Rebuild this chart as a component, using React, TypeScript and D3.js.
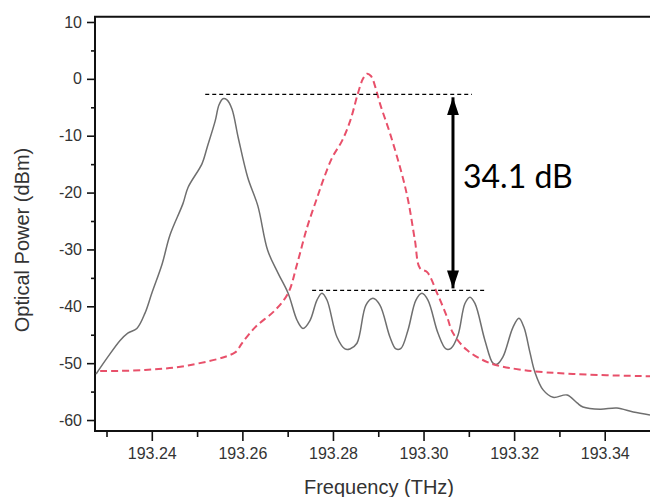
import React, { useEffect, useRef } from 'react'
import * as d3 from 'd3'

// Gray trace (solid): frequency THz, power dBm
const grayFreq = [
  193.2277, 193.2303, 193.2330, 193.2347, 193.2367, 193.2385, 193.2400, 193.2423,
  193.2440, 193.2469, 193.2480, 193.2511, 193.2522, 193.2540, 193.25483, 193.25572,
  193.25660, 193.25770, 193.2591, 193.2612, 193.2634, 193.2656, 193.2679, 193.2701,
  193.2721, 193.27338, 193.27492, 193.27647, 193.27757, 193.27868, 193.28088, 193.28265,
  193.28375, 193.28530, 193.28728, 193.28883, 193.29037, 193.29258, 193.29391, 193.29501,
  193.29656, 193.29832, 193.29965, 193.30097, 193.30318, 193.30495, 193.30605, 193.30760,
  193.30914, 193.31025, 193.31135, 193.31356, 193.31532, 193.31621, 193.31753, 193.31974,
  193.32106, 193.32217, 193.32349, 193.32460, 193.3264, 193.3286, 193.3317, 193.3339,
  193.3352, 193.3390, 193.3427, 193.3463, 193.3500
]
const grayPower = [
  -51.9, -48.9, -46.0, -44.7, -43.9, -41.2, -37.7, -32.5,
  -27.5, -21.9, -19.1, -14.9, -12.1, -7.4, -4.6, -3.5,
  -3.7, -5.3, -10.4, -17.4, -22.3, -30.2, -34.2, -37.7,
  -42.5, -43.9, -42.5, -38.9, -37.7, -38.9, -45.4, -47.5,
  -47.5, -46.5, -39.8, -38.6, -39.8, -45.4, -47.5, -47.4,
  -44.2, -38.9, -37.7, -38.9, -44.7, -47.5, -47.4, -45.1,
  -39.5, -38.4, -39.5, -46.0, -50.0, -50.2, -48.9, -43.7,
  -42.1, -43.7, -48.1, -51.6, -54.7, -56.0, -55.6, -57.0,
  -57.7, -58.1, -57.9, -58.6, -59.1
]

// Red trace (dashed)
const redFreq = [
  193.2286, 193.2385, 193.2480, 193.2584, 193.2599, 193.2628, 193.2672, 193.2701,
  193.2721, 193.2743, 193.2765, 193.2778, 193.2798, 193.2820, 193.2838, 193.2855,
  193.28662, 193.2875, 193.28839, 193.28949, 193.2904, 193.2926, 193.2952, 193.2966,
  193.2981, 193.2992, 193.3008, 193.3030, 193.3052, 193.3065, 193.3096, 193.3147,
  193.3220, 193.3330, 193.3500
]
const redPower = [
  -51.4, -51.2, -50.4, -48.1, -46.5, -43.7, -40.7, -37.7,
  -32.5, -26.1, -20.9, -17.9, -13.9, -10.9, -7.4, -2.6,
  0.0, 0.9, 0.5, -1.8, -4.4, -9.6, -16.7, -21.4,
  -28.4, -33.3, -34.0, -37.7, -41.9, -44.7, -47.7, -50.0,
  -51.2, -51.9, -52.3
]

const xMajor = [193.24, 193.26, 193.28, 193.30, 193.32, 193.34]
const xMinor = [193.23, 193.25, 193.27, 193.29, 193.31, 193.33]
const yMajor = [-60, -50, -40, -30, -20, -10, 0, 10]
const yMinor = [-55, -45, -35, -25, -15, -5, 5]

// annotation: levels and extents
const upperLevel = -2.72
const lowerLevel = -37.2
const upperSpan = [193.2518, 193.3107]
const lowerSpan = [193.2754, 193.3135]
const arrowFreq = 193.3065
const deltaLabel = '34.1 dB'

const W = 650
const H = 497
const font = '"Liberation Sans", Arial, sans-serif'

export default function App() {
  const ref = useRef<SVGSVGElement>(null)

  useEffect(() => {
    if (!ref.current) return
    const svg = d3.select(ref.current)
    svg.selectAll('*').remove()

    const left = 95, right = 650, top = 16.7, bottom = 431

    const x = d3.scaleLinear().domain([193.22746, 193.35]).range([left, right])
    const y = d3.scaleLinear().domain([-61.93, 10.93]).range([bottom, top])

    const defs = svg.append('defs')
    defs.append('clipPath').attr('id', 'plot')
      .append('rect').attr('x', left).attr('y', top).attr('width', right - left).attr('height', bottom - top)
    const arrowHead = defs.append('marker')
      .attr('id', 'head')
      .attr('viewBox', '0 0 18 12')
      .attr('refX', 18).attr('refY', 6)
      .attr('markerWidth', 18).attr('markerHeight', 12)
      .attr('markerUnits', 'userSpaceOnUse')
      .attr('orient', 'auto-start-reverse')
    arrowHead.append('path').attr('d', 'M0,0 L18,6 L0,12 Z').attr('fill', '#000')

    // axes
    const yAxis = svg.append('g').attr('transform', `translate(${left},0)`)
      .call(d3.axisLeft(y).tickValues(yMajor).tickSize(8).tickPadding(5).tickFormat(d => String(d)))
    const yAxisMinor = svg.append('g').attr('transform', `translate(${left},0)`)
      .call(d3.axisLeft(y).tickValues(yMinor).tickSize(4).tickFormat(() => ''))
    const xAxis = svg.append('g').attr('transform', `translate(0,${bottom})`)
      .call(d3.axisBottom(x).tickValues(xMajor).tickSize(10).tickPadding(7).tickFormat(d3.format('.2f')))
    const xAxisMinor = svg.append('g').attr('transform', `translate(0,${bottom})`)
      .call(d3.axisBottom(x).tickValues(xMinor).tickSize(6).tickFormat(() => ''))

    for (const g of [yAxis, yAxisMinor, xAxis, xAxisMinor]) {
      g.select('.domain').remove()
      g.selectAll('line').attr('stroke', '#111').attr('stroke-width', 1.6)
      g.selectAll('text').attr('font-family', font).attr('font-size', 16).attr('fill', '#333')
    }

    // frame lines
    svg.append('path')
      .attr('d', `M${left},${bottom} L${left},${top} L${right},${top}`)
      .attr('fill', 'none').attr('stroke', '#111').attr('stroke-width', 2)
    svg.append('line')
      .attr('x1', left - 1).attr('x2', right).attr('y1', bottom).attr('y2', bottom)
      .attr('stroke', '#111').attr('stroke-width', 2)

    // traces
    const plot = svg.append('g').attr('clip-path', 'url(#plot)')
    const line = d3.line<[number, number]>()
      .x(d => x(d[0])).y(d => y(d[1]))
      .curve(d3.curveCatmullRom.alpha(0.5))

    plot.append('path')
      .datum(grayFreq.map((f, i) => [f, grayPower[i]] as [number, number]))
      .attr('d', line)
      .attr('fill', 'none').attr('stroke', '#6f6f6f').attr('stroke-width', 1.5)

    plot.append('path')
      .datum(redFreq.map((f, i) => [f, redPower[i]] as [number, number]))
      .attr('d', line)
      .attr('fill', 'none').attr('stroke', '#e8506a').attr('stroke-width', 2)
      .attr('stroke-dasharray', '7,4')

    // annotation
    svg.append('line')
      .attr('x1', x(upperSpan[0])).attr('x2', x(upperSpan[1]))
      .attr('y1', y(upperLevel)).attr('y2', y(upperLevel))
      .attr('stroke', '#000').attr('stroke-width', 1.2).attr('stroke-dasharray', '4,3')
    svg.append('line')
      .attr('x1', x(lowerSpan[0])).attr('x2', x(lowerSpan[1]))
      .attr('y1', y(lowerLevel)).attr('y2', y(lowerLevel))
      .attr('stroke', '#000').attr('stroke-width', 1.2).attr('stroke-dasharray', '4,3')
    svg.append('line')
      .attr('x1', x(arrowFreq)).attr('x2', x(arrowFreq))
      .attr('y1', y(upperLevel) + 3).attr('y2', y(lowerLevel) - 2)
      .attr('stroke', '#000').attr('stroke-width', 3)
      .attr('marker-start', 'url(#head)').attr('marker-end', 'url(#head)')
    svg.append('text')
      .attr('x', x(arrowFreq) + 10)
      .attr('y', (y(upperLevel) + y(lowerLevel)) / 2 - 4)
      .attr('font-family', 'Lato, "Open Sans", sans-serif')
      .attr('font-size', 32)
      .attr('fill', '#000')
      .text(deltaLabel)

    // axis titles
    svg.append('text')
      .attr('x', 379).attr('y', 494)
      .attr('text-anchor', 'middle')
      .attr('font-family', font).attr('font-size', 20).attr('fill', '#333')
      .text('Frequency (THz)')
    svg.append('text')
      .attr('transform', 'translate(29,240) rotate(-90)')
      .attr('text-anchor', 'middle')
      .attr('font-family', font).attr('font-size', 20).attr('fill', '#333')
      .text('Optical Power (dBm)')
  }, [])

  return (
    <svg
      ref={ref}
      width={W}
      height={H}
      style={{ position: 'absolute', left: 0, top: 0, background: '#fff' }}
    />
  )
}
